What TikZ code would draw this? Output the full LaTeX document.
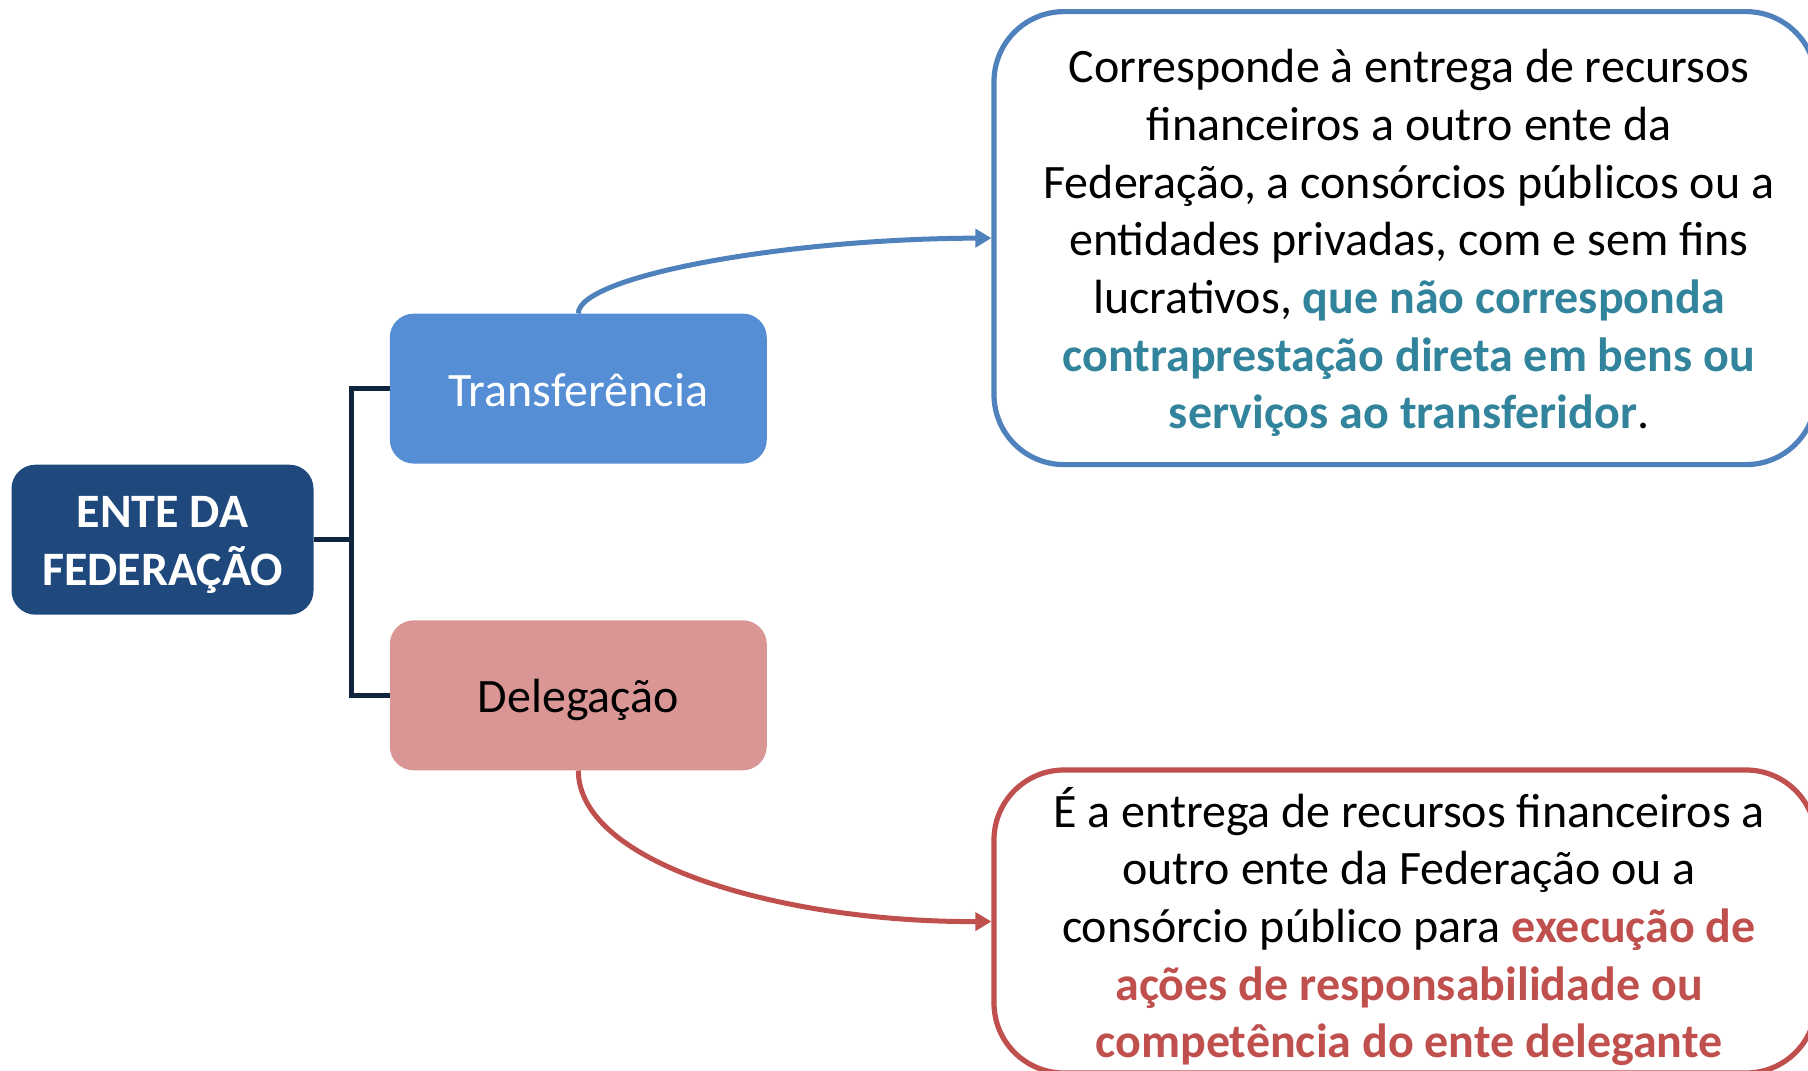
\documentclass[tikz,border=0pt]{standalone}
\usepackage{fontspec}
\setmainfont{Carlito}
\usetikzlibrary{arrows.meta}
\definecolor{entebg}{HTML}{1F497D}
\definecolor{trunk}{HTML}{0F243E}
\definecolor{transbg}{HTML}{558ED5}
\definecolor{delegbg}{HTML}{D99694}
\definecolor{blueline}{HTML}{4F81BD}
\definecolor{redline}{HTML}{C0504D}
\definecolor{tealtext}{HTML}{31849B}
\tikzset{
  base/.style={inner sep=0pt, align=center, font=\fontsize{48}{57.7}\selectfont},
  smallbox/.style={base, rounded corners=24pt, minimum height=150pt},
  bigbox/.style={base, draw, line width=5.2pt, rounded corners=70pt, minimum width=822pt},
  txt/.style={base, yshift=-5pt},
  conn/.style={line width=5pt, -{Triangle[length=16pt,width=18pt]}},
  tree/.style={draw=trunk, line width=5pt}
}
\begin{document}
\begin{tikzpicture}[x=1pt,y=-1pt]
\useasboundingbox (0,0) rectangle (1808,1071);
\clip (0,0) rectangle (1808,1071);
\node[smallbox, fill=entebg, minimum width=302pt] (ente) at (162.5,539.7) {};
\node[txt, text=white, font=\fontsize{48}{57.7}\selectfont\bfseries] (entet) at (ente.center) {ENTE DA\\FEDERAÇÃO};
\node[smallbox, fill=transbg, minimum width=377pt] (trans) at (578.3,388.6) {};
\node[txt, text=white, yshift=3pt] (transt) at (trans.center) {Transferência};
\node[smallbox, fill=delegbg, minimum width=377pt] (deleg) at (578.3,695.3) {};
\node[txt, text=black] (delegt) at (deleg.center) {Delegação};
\node[bigbox, draw=blueline, minimum height=453pt] (def1) at (1405,238.1) {};
\node[txt] (def1t) at ([xshift=4pt]def1.center) {Corresponde à entrega de recursos\\financeiros a outro ente da\\Federação, a consórcios públicos ou a\\entidades privadas, com e sem fins\\lucrativos, \textbf{\color{tealtext}que não corresponda}\\\textbf{\color{tealtext}contraprestação direta em bens ou}\\\textbf{\color{tealtext}serviços ao transferidor}.};
\node[bigbox, draw=redline, minimum height=303pt] (def2) at (1405,921.5) {};
\node[txt] (def2t) at ([xshift=4pt]def2.center) {É a entrega de recursos financeiros a\\outro ente da Federação ou a\\consórcio público para \textbf{\color{redline}execução de}\\\textbf{\color{redline}ações de responsabilidade ou}\\\textbf{\color{redline}competência do ente delegante}};
\draw[tree] (ente.east) -- ++(38,0) coordinate (fork) |- (trans.west);
\draw[tree] (fork) |- (deleg.west);
\draw[conn, draw=blueline] (trans.north) .. controls (578.8,276) and (786,238.7) .. (def1.west);
\draw[conn, draw=redline] (deleg.south) .. controls (578.8,865) and (786,922.5) .. (def2.west);
\end{tikzpicture}
\end{document}
